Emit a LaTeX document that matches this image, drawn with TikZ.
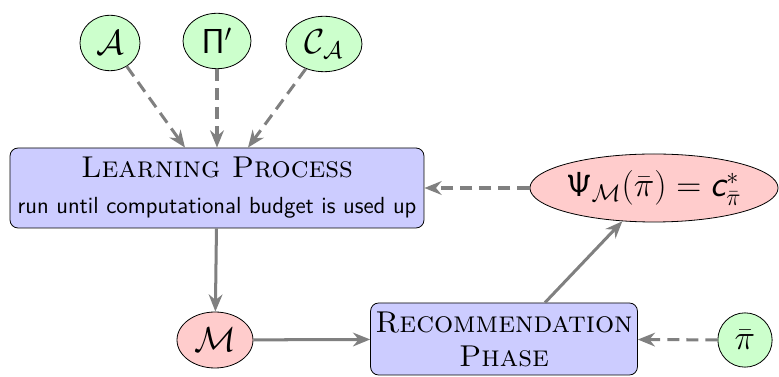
\documentclass[tikz,border=0pt]{standalone}
\usepackage{amsmath}
\usepackage{tikz}
\usetikzlibrary{arrows.meta,positioning,shapes.geometric}
\tikzset{
  phase/.style={
    draw=black, rounded corners=4pt, fill=blue!20, align=center,
    inner sep=2pt
  },
  heading/.style={font=\fontsize{15}{15}\selectfont\scshape},
  inp/.style={draw=black, ellipse, fill=green!20, inner sep=1pt, font=\LARGE},
  outp/.style={draw=black, ellipse, fill=red!20, inner sep=1pt, font=\LARGE},
  flow/.style={-{Stealth[length=3mm,width=2.4mm]}, draw=gray, line width=1.5pt},
  dflow/.style={flow, dash pattern=on 6pt off 3.5pt}
}
\begin{document}
\begin{tikzpicture}[x=0.0175cm,y=-0.0175cm]
  \useasboundingbox (0,0) rectangle (779,377);
  % learning part
  \node[phase, minimum width=7.245cm, minimum height=1.4cm] (learn) at (217,188)
    {{\fontsize{15}{15}\selectfont\scshape Learning Process}\\[6pt]
     {\fontsize{11.6}{14}\selectfont\sffamily run until computational budget is used up}};
  \node[inp, minimum width=1.05cm, minimum height=0.97cm] (algs) at (110,43) {$\mathcal{A}$};
  \node[inp, minimum width=1.19cm, minimum height=0.97cm] (inst) at (217,41) {$\mathsf{\Pi}'$};
  \node[inp, minimum width=1.33cm, minimum height=0.97cm] (conf) at (324,44) {$\mathcal{C}_{\mathcal{A}}$};
  \node[outp, minimum width=1.33cm, minimum height=0.98cm] (model) at (215,340) {$\mathcal{M}$};
  % recommendation part
  \node[phase, heading, minimum width=4.67cm, minimum height=1.26cm] (rec) at (504,339)
    {Recommendation\\[2pt] Phase};
  \node[outp, inner sep=0pt, font=\fontsize{18.5}{22}\selectfont, minimum width=4.34cm, minimum height=1.19cm] (pred) at (654,188)
    {$\mathsf{\Psi}_{\mathcal{M}}(\bar{\pi}) = \textsf{\itshape c}^{*}_{\bar{\pi}}$};
  \node[inp, minimum width=0.95cm, minimum height=0.95cm] (newinst) at (745,340) {$\bar{\pi}$};
  \draw[dflow] (algs) -- (learn.north -| 185,0);
  \draw[dflow] (inst) -- (learn);
  \draw[dflow] (conf) -- (learn.north -| 248,0);
  \draw[flow] (learn) -- (model);
  \draw[flow] (model) -- (rec);
  \draw[flow] (rec.north -| 545,0) -- (pred);
  \draw[dflow] (pred) -- (learn);
  \draw[dflow] (newinst) -- (rec);
\end{tikzpicture}
\end{document}
